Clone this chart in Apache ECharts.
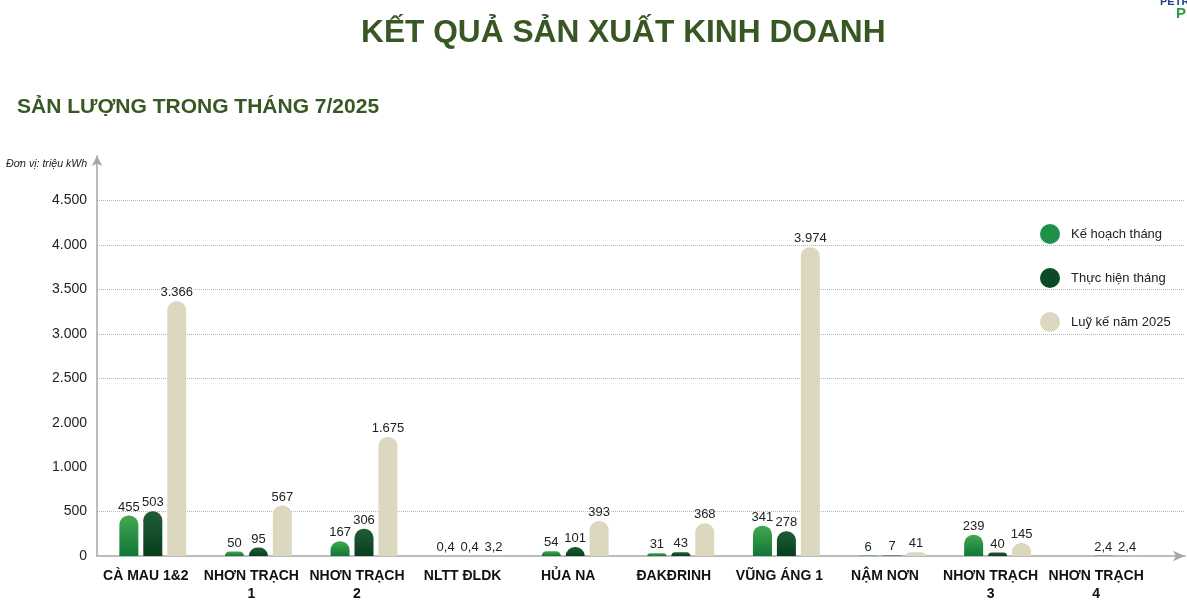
<!DOCTYPE html>
<html>
<head>
<meta charset="utf-8">
<script src="https://cdn.jsdelivr.net/npm/echarts@6/dist/echarts.min.js"></script>
<style>
html,body{margin:0;padding:0;background:#fff;}
#c{width:1187px;height:600px;}
</style>
</head>
<body>
<div id="c"></div>
<script>
const categories = ['CÀ MAU 1&2','NHƠN TRẠCH\n1','NHƠN TRẠCH\n2','NLTT ĐLDK','HỦA NA','ĐAKĐRINH','VŨNG ÁNG 1','NẬM NƠN','NHƠN TRẠCH\n3','NHƠN TRẠCH\n4'];
const seriesNames = ['Kế hoạch tháng','Thực hiện tháng','Luỹ kế năm 2025'];
const keHoach = [455, 50, 167, 0.4, 54, 31, 341, 6, 239, null];
const thucHien = [503, 95, 306, 0.4, 101, 43, 278, 7, 40, 2.4];
const luyKe = [3366, 567, 1675, 3.2, 393, 368, 3974, 41, 145, 2.4];
// y axis: 0..5000 step 500, with the 1000–2000 span drawn as one step (axis break)
const yTicks = {min: 0, max: 5000, interval: 500};
const yBreak = {start: 1000, end: 2000, gap: 500};

function fmt(v){
  if (v == null || v === '-') return '';
  if (v % 1 !== 0) return String(v).replace('.', ',');
  return String(v).replace(/\B(?=(\d{3})+(?!\d))/g, '.');
}

const FONT = 'Arial, "Liberation Sans", sans-serif';
const chart = echarts.init(document.getElementById('c'), null, {renderer:'canvas'});

function grad(top, bottom){
  return new echarts.graphic.LinearGradient(0,0,0,1,[{offset:0,color:top},{offset:1,color:bottom}]);
}
const colors = [grad('#43a94f','#107537'), grad('#1f5e35','#083d1e'), '#dcd8bf'];
const legendColors = ['#1f8f4a','#0b4a26','#dcd8bf'];

const labelStyle = {
  show: true, position: 'top', distance: 2,
  fontFamily: FONT, fontSize: 13, color: '#222',
  formatter: p => fmt(p.value)
};

function mkSeries(i, data){
  return {
    name: seriesNames[i], type: 'bar', xAxisIndex: 0, yAxisIndex: 0,
    data: data, barWidth: 19, barGap: '26%',
    itemStyle: {color: colors[i], borderRadius: [9,9,0,0]},
    label: labelStyle
  };
}

const gridPos = {top: 156, bottom: 44};
const axisLineStyle = {color: '#a6a6a6', width: 1.5};

chart.setOption({
  backgroundColor: '#fff',
  animation: false,
  title: [
    {text: 'KẾT QUẢ SẢN XUẤT KINH DOANH', left: 356, top: 12,
     textStyle: {fontFamily: FONT, fontSize: 31.7, fontWeight: 'bold', color: '#385723'}},
    {text: 'SẢN LƯỢNG TRONG THÁNG 7/2025', left: 12, top: 92,
     textStyle: {fontFamily: FONT, fontSize: 21, fontWeight: 'bold', color: '#385723'}},
    {text: 'Đơn vị: triệu kWh', left: 1, top: 154,
     textStyle: {fontFamily: FONT, fontSize: 10.6, fontStyle: 'italic', fontWeight: 'normal', color: '#222'}}
  ],
  legend: {
    data: seriesNames.map((n,i)=>({name:n, itemStyle:{color:legendColors[i]}})),
    orient: 'vertical', left: 1035, top: 219,
    itemWidth: 20, itemHeight: 20, itemGap: 24, icon: 'circle',
    textStyle: {fontFamily: FONT, fontSize: 13, color: '#222', padding: [0,0,0,6]}
  },
  grid: [
    {left: 100, right: 31, top: gridPos.top, bottom: gridPos.bottom, outerBoundsMode: 'none', containLabel: false},
    {left: 97, right: 2, top: gridPos.top, bottom: gridPos.bottom, outerBoundsMode: 'none', containLabel: false}
  ],
  xAxis: [
    {type: 'category', gridIndex: 0, data: categories,
     axisLine: {show: false}, axisTick: {show: false},
     axisLabel: {fontFamily: FONT, fontSize: 14, fontWeight: 'bold', color: '#111',
                 margin: 11, lineHeight: 18, interval: 0, padding: [0,14,0,0]}},
    {type: 'value', gridIndex: 1, min: 0, max: 1,
     axisLine: {show: true, symbol: ['none','arrow'], symbolSize: [8,12], lineStyle: axisLineStyle},
     axisTick: {show: false}, axisLabel: {show: false}, splitLine: {show: false}}
  ],
  yAxis: [
    {type: 'value', gridIndex: 0, min: yTicks.min, max: yTicks.max, interval: yTicks.interval, show: false,
     breaks: [yBreak], breakArea: {show: false},
     splitLine: {show: false}},
    {type: 'value', gridIndex: 1, min: yTicks.min, max: yTicks.max, interval: yTicks.interval,
     breaks: [yBreak], breakArea: {show: false},
     axisLine: {show: false},
     axisTick: {show: false},
     axisLabel: {fontFamily: FONT, fontSize: 14, color: '#222', margin: 10, showMaxLabel: false,
                 formatter: v => fmt(v)},
     splitLine: {show: true, showMaxLine: false, showMinLine: false,
                 lineStyle: {type: 'dotted', color: '#b5b5b5', width: 1}}},
    {type: 'value', gridIndex: 1, min: 0, max: 1, position: 'left', offset: 0,
     axisLine: {show: true, onZero: false, symbol: ['none','arrow'], symbolSize: [8,10], lineStyle: axisLineStyle},
     axisTick: {show: false}, axisLabel: {show: false}, splitLine: {show: false}}
  ],
  graphic: [
    {type: 'text', left: 1160, top: -4, style: {text: 'PETRO', fontFamily: FONT, fontSize: 11, fontWeight: 'bold', fill: '#233f8f'}},
    {type: 'text', left: 1176, top: 6, style: {text: 'P', fontFamily: FONT, fontSize: 15, fontWeight: 'bold', fill: '#2e9b47'}}
  ],
  series: [mkSeries(0, keHoach), mkSeries(1, thucHien), mkSeries(2, luyKe)]
});
</script>
</body>
</html>
